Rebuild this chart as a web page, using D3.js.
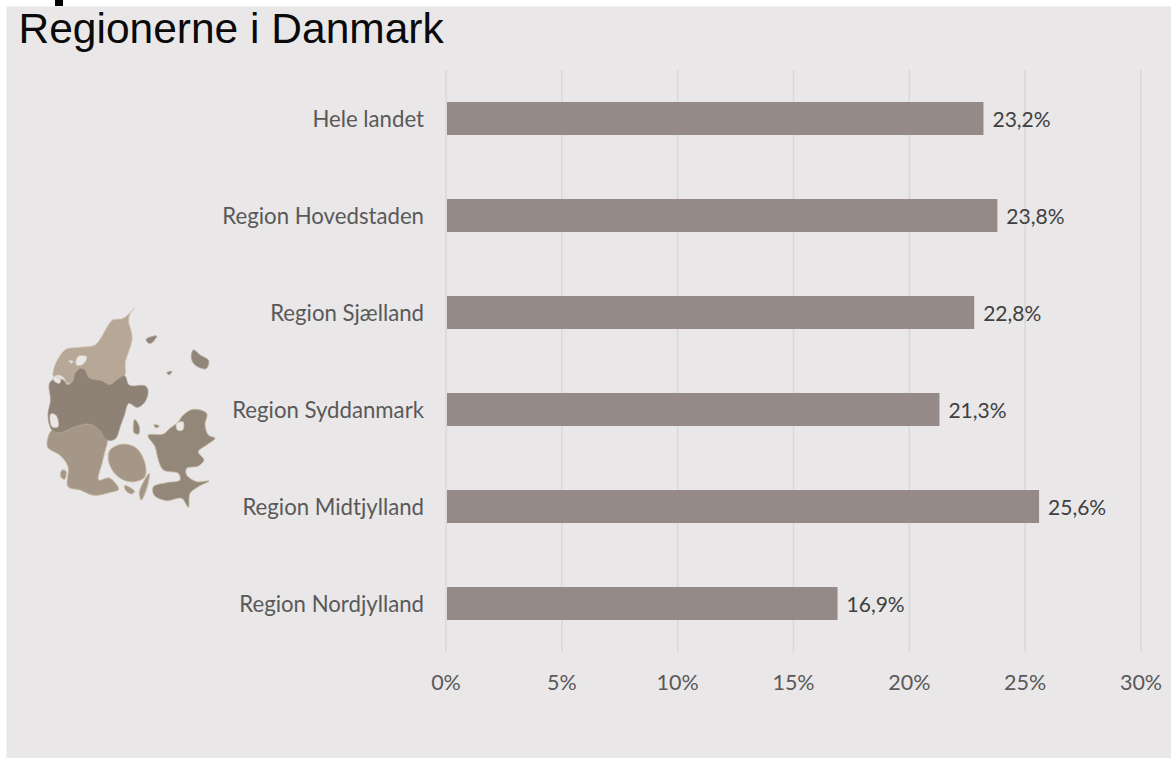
<!DOCTYPE html>
<html>
<head>
<meta charset="utf-8">
<script src="https://cdn.jsdelivr.net/npm/d3@7"></script>
<style>
  html, body { margin: 0; padding: 0; background: #fff; }
  svg { display: block; }
</style>
</head>
<body>
<svg id="chart" width="1171" height="758"></svg>
<script>
const regions = ['Hele landet', 'Region Hovedstaden', 'Region Sjælland', 'Region Syddanmark', 'Region Midtjylland', 'Region Nordjylland'];
const shares = [23.2, 23.8, 22.8, 21.3, 25.6, 16.9];
const tickValues = [0, 5, 10, 15, 20, 25, 30];

// rough outline of the map
const mapNord = [[[312,56],[300,72],[296,95],[304,125],[306,150],[296,185],[286,215],[284,258],[262,268],[240,284],[215,272],[190,268],[176,262],[165,240],[150,235],[135,250],[128,275],[112,280],[100,262],[85,255],[70,258],[72,235],[85,205],[108,178],[150,172],[195,165],[215,140],[235,105],[248,90],[280,85]]];
const mapMidt = [[[135,250],[150,235],[165,240],[176,262],[190,268],[215,272],[240,284],[262,268],[284,258],[298,286],[346,288],[354,304],[345,335],[322,352],[296,340],[284,372],[272,405],[256,446],[232,450],[208,420],[176,402],[130,412],[90,428],[66,420],[54,376],[62,330],[58,282],[72,268],[100,270],[112,284],[128,275]]];
const mapSyd = [[[66,420],[90,428],[130,412],[176,402],[208,420],[232,450],[226,480],[216,520],[206,570],[238,564],[266,598],[238,608],[190,616],[150,600],[114,590],[114,530],[90,496],[52,470]],
  [[240,480],[280,462],[320,475],[345,520],[345,560],[315,575],[280,570],[250,545],[235,510]],
  [[284,586],[314,604],[304,612],[286,600]],
  [[358,550],[352,590],[334,630],[328,606]],
  [[96,540],[108,544],[104,568],[92,560]]];
const mapSjaelland = [[[354,436],[400,432],[420,415],[445,395],[460,375],[490,358],[530,370],[525,405],[535,435],[555,445],[530,465],[505,485],[522,510],[505,528],[470,535],[470,555],[500,575],[537,573],[505,590],[480,610],[475,652],[455,625],[410,632],[372,615],[370,590],[410,578],[450,570],[445,550],[400,540],[385,510],[375,470]],
  [[314,388],[328,410],[326,432],[312,428]],
  [[372,404],[388,408],[378,414]]];
const mapIslands = [[[490,180],[512,196],[536,212],[528,236],[496,226],[484,204]],
  [[348,148],[380,138],[366,158],[356,160]],
  [[410,248],[426,244],[418,254]]];
const mapHoles = [[[146,198],[170,200],[160,222],[140,226],[138,212]],
  [[116,212],[130,214],[124,220]],
  [[72,260],[92,268],[88,280],[72,272]],
  [[62,372],[78,376],[84,410],[66,410]],
  [[440,400],[460,396],[458,420],[442,420]]];

const svg = d3.select('#chart');
const x = d3.scaleLinear().domain([0, 30]).range([446, 1141]);
const y = d3.scaleBand().domain(regions).range([70, 652]).paddingInner(0.66).paddingOuter(0.33);
const labelFont = 'Lato, "Open Sans", sans-serif';

const defs = svg.append('defs');
defs.append('filter').attr('id', 'soft').append('feGaussianBlur').attr('stdDeviation', 0.5);

svg.append('rect').attr('x', 6.5).attr('y', 6.5).attr('width', 1164.5).attr('height', 751.5).attr('fill', '#e9e7e8');
svg.append('rect').attr('x', 55).attr('y', 0).attr('width', 8).attr('height', 6).attr('fill', '#000');

svg.append('text').attr('x', 18.5).attr('y', 43).attr('font-family', '"Liberation Sans", Arial, sans-serif')
  .attr('font-size', 42.5).attr('fill', '#0a0a0a').text('Regionerne i Danmark');

// gridlines
svg.selectAll('.grid').data(tickValues).enter().append('line')
  .attr('x1', d => x(d)).attr('x2', d => x(d)).attr('y1', 70).attr('y2', 652)
  .attr('stroke', '#d9d7d8').attr('stroke-width', 1.5);

// bars
svg.selectAll('.bar').data(shares).enter().append('rect')
  .attr('x', x(0) + 1).attr('y', (d, i) => y(regions[i]))
  .attr('width', d => x(d) - x(0) - 1).attr('height', y.bandwidth())
  .attr('fill', '#968a88');

svg.selectAll('.value').data(shares).enter().append('text')
  .attr('x', d => x(d) + 9).attr('y', (d, i) => y(regions[i]) + y.bandwidth() / 2 + 8)
  .attr('font-family', labelFont).attr('font-size', 21).attr('fill', '#404040')
  .text(d => d3.format('.1f')(d).replace('.', ',') + '%');

svg.selectAll('.cat').data(regions).enter().append('text')
  .attr('x', 424).attr('y', d => y(d) + y.bandwidth() / 2 + 8)
  .attr('text-anchor', 'end').attr('font-family', labelFont).attr('font-size', 22.2).attr('fill', '#595959')
  .text(d => d);

svg.selectAll('.tick').data(tickValues).enter().append('text')
  .attr('x', d => x(d)).attr('y', 689.5).attr('text-anchor', 'middle')
  .attr('font-family', labelFont).attr('font-size', 21.5).attr('fill', '#595959')
  .text(d => d + '%');

// map picture
const mx = d3.scaleLinear().domain([0, 600]).range([30, 230]);
const my = d3.scaleLinear().domain([0, 690]).range([290, 520]);
const shape = d3.line().x(d => mx(d[0])).y(d => my(d[1])).curve(d3.curveCatmullRomClosed.alpha(0.5));
const map = svg.append('g').attr('stroke-linejoin', 'round').attr('filter', 'url(#soft)');
function drawShapes(list, fill, stroke) {
  map.selectAll(null).data(list).enter().append('path')
    .attr('d', shape).attr('fill', fill)
    .attr('stroke', stroke).attr('stroke-width', 0.8);
}
drawShapes(mapNord, '#b6a797', '#d3c4ae');
drawShapes(mapSyd, '#a59788', '#cdbca5');
drawShapes(mapMidt, '#8e8277', '#a89a8a');
drawShapes(mapSjaelland, '#928779', '#c6b7a2');
drawShapes(mapIslands, '#8f8579', '#b8aa98');
drawShapes(mapHoles, '#e9e7e8', '#d3c4ae');
</script>
</body>
</html>
